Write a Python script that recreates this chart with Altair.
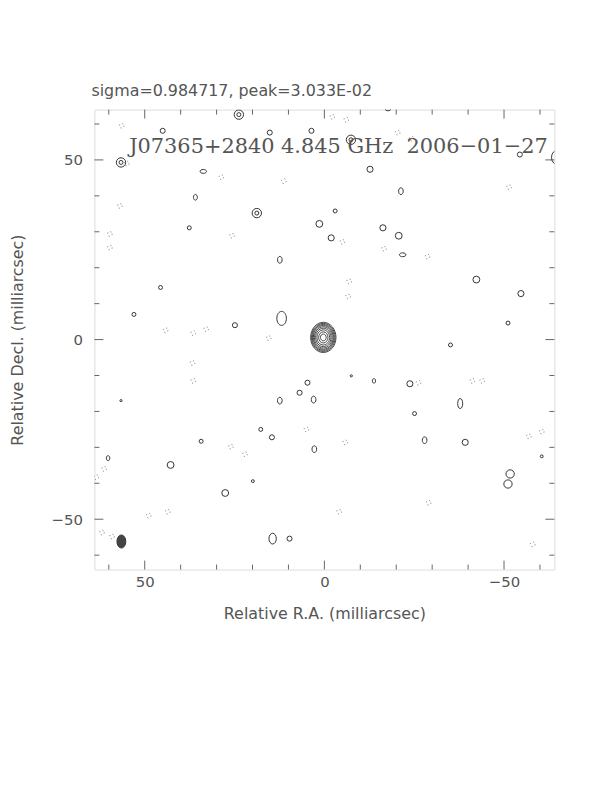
import altair as alt
import pandas as pd

# ---------------- data (milliarcsec) ----------------
title_top = "sigma=0.984717, peak=3.033E-02"
map_label = "J07365+2840 4.845 GHz \u00a02006\u221201\u221227"
x_title = "Relative R.A. (milliarcsec)"
y_title = "Relative Decl. (milliarcsec)"
axis_range = 64
label_vals = [50, 0, -50]
minor_ticks = [-60, -40, -30, -20, -10, 10, 20, 30, 40, 60]
major_ticks = [-50, 0, 50]

# central source: concentric contours (major axis, mas)
core_x = [0.3] * 9
core_y = [0.6] * 9
core_d = [8.4, 7.8, 7.2, 6.6, 5.9, 5.1, 4.2, 3.1, 1.9]
core_form = ["oval"] * 9

# positive contours elsewhere: centre, major diameter, form
pos_x = [56.6, 56.6, 23.8, 23.8, 18.8, 18.8, -7.4, -7.4, 45.0, 15.2, 3.6, -17.7, -54.4, -65.5,
         33.7, 35.9, -12.7, -21.3, 1.4, -3.0, -1.9, -16.3, -20.7, -21.8, 37.6, 12.4, -42.3,
         45.6, 53.0, 24.9, 11.9, -51.1, -54.7, -35.1, -13.8, -23.8, -25.1, -27.9, -37.8, -39.2,
         -51.7, -51.1, -60.5, 4.7, 6.9, 3.0, 12.4, 17.7, 14.6, 2.8, 34.3, 42.8, 27.6, 19.9,
         60.2, 14.4, 9.7, 56.6, -7.5]
pos_y = [49.3, 49.3, 62.6, 62.6, 35.2, 35.2, 55.6, 55.6, 58.1, 57.6, 58.1, 64.5, 51.5, 50.7,
         46.8, 39.6, 47.4, 41.3, 32.2, 35.8, 28.3, 31.1, 28.9, 23.6, 31.1, 22.2, 16.7,
         14.5, 7.0, 4.0, 5.9, 4.6, 12.8, -1.5, -11.5, -12.3, -20.6, -28.0, -17.8, -28.6,
         -37.4, -40.2, -32.5, -12.0, -14.8, -16.7, -17.0, -25.0, -27.2, -30.5, -28.3, -34.9, -42.7, -39.4,
         -33.0, -55.4, -55.4, -17.0, -10.1]
pos_d = [2.6, 1.1, 2.6, 1.1, 2.6, 1.1, 2.6, 1.1, 1.4, 1.4, 1.4, 1.7, 1.4, 4.6,
         1.8, 1.6, 1.7, 1.9, 1.9, 1.1, 1.7, 1.7, 1.9, 1.8, 1.1, 1.9, 1.9,
         1.1, 1.1, 1.4, 3.9, 1.1, 1.7, 1.1, 1.3, 1.7, 1.1, 1.9, 2.8, 1.7,
         2.3, 2.3, 0.8, 1.4, 1.4, 1.9, 1.9, 1.1, 1.4, 1.9, 1.1, 1.9, 1.9, 0.8,
         1.4, 3.0, 1.4, 0.6, 0.6]
pos_form = ["circle", "circle", "circle", "circle", "circle", "circle", "circle", "circle",
            "circle", "circle", "circle", "circle", "circle", "circle",
            "wide", "tall", "circle", "tall", "circle", "circle", "circle", "circle", "circle", "wide",
            "circle", "tall", "circle",
            "circle", "circle", "circle", "tall", "circle", "circle", "circle", "tall", "circle",
            "circle", "tall", "taller", "circle",
            "circle", "circle", "circle", "circle", "circle", "tall", "tall", "circle", "circle",
            "tall", "circle", "circle", "circle", "circle",
            "tall", "tall", "circle", "circle", "circle"]

# negative (dashed) contours
neg_x = [56.4, 59.7, 59.7, 55.0, 28.7, 25.7, 32.9, 36.5, 44.2, 36.7, 36.5, -6.9, -6.6, -5.0,
         -16.6, -28.7, 15.5, -26.2, -41.2, -43.9, -56.9, -60.5, 5.0, -5.8, 26.0, 22.1, -4.1,
         48.9, 43.6, 61.9, 59.1, -58.0, 63.5, 61.3, -51.4, -2.2, -6.1, -20.4, -24.3, 11.3,
         -29.0, 56.9]
neg_y = [59.5, 29.4, 25.6, 49.0, 45.2, 28.9, 2.9, 1.8, 2.6, -6.5, -11.5, 16.2, 12.0, 27.2,
         25.3, 23.1, 0.4, -12.0, -11.5, -11.5, -26.9, -25.6, -25.0, -28.6, -29.8, -31.9, -47.9,
         -49.0, -47.9, -53.7, -54.8, -57.0, -38.3, -36.0, 42.4, 62.0, 61.2, 57.6, 55.9, 44.1,
         -45.4, 37.2]
neg_d = [1.3] * len(neg_x)

# restoring beam
beam_x = [56.5]
beam_y = [-56.2]
beam_d = [3.6]
beam_form = ["tall"]

# ---------------- chart ----------------
ppm = 463 / (2 * axis_range)  # px per mas for size scale
shape_scale = alt.Scale(
    domain=["circle", "tall", "taller", "wide", "oval"],
    range=[
        "circle",
        "M -0.68 0 A 0.68 1 0 1 0 0.68 0 A 0.68 1 0 1 0 -0.68 0 Z",
        "M -0.5 0 A 0.5 1 0 1 0 0.5 0 A 0.5 1 0 1 0 -0.5 0 Z",
        "M -1 0 A 1 0.6 0 1 0 1 0 A 1 0.6 0 1 0 -1 0 Z",
        "M -0.84 0 A 0.84 1 0 1 0 0.84 0 A 0.84 1 0 1 0 -0.84 0 Z",
    ],
)
size_scale = alt.Scale(type="pow", exponent=2, domain=[0, 10], range=[0, (10 * ppm) ** 2])

xs = alt.Scale(domain=[axis_range, -axis_range], nice=False, zero=False)
ys = alt.Scale(domain=[-axis_range, axis_range], nice=False, zero=False)

TXT = "#555555"
xaxis = alt.Axis(values=label_vals, ticks=False, domain=False, grid=False, title=x_title,
                 labelFontSize=15, labelFont="DejaVu Sans", labelColor=TXT, labelPadding=5,
                 titleFontSize=16, titleFont="DejaVu Sans", titleFontWeight="normal",
                 titleColor=TXT, titlePadding=16)
yaxis = alt.Axis(values=label_vals, ticks=False, domain=False, grid=False, title=y_title,
                 labelFontSize=15, labelFont="DejaVu Sans", labelColor=TXT, labelPadding=12,
                 titleFontSize=16, titleFont="DejaVu Sans", titleFontWeight="normal",
                 titleColor=TXT, titlePadding=26)


def blobs(xv, yv, dv, fv, **mk):
    df = pd.DataFrame({"x": xv, "y": yv, "d": dv, "f": fv})
    return alt.Chart(df).mark_point(clip=True, **mk).encode(
        x=alt.X("x:Q", scale=xs, axis=xaxis),
        y=alt.Y("y:Q", scale=ys, axis=yaxis),
        size=alt.Size("d:Q", scale=size_scale, legend=None),
        shape=alt.Shape("f:N", scale=shape_scale, legend=None),
    )


core = blobs(core_x, core_y, core_d, core_form, filled=False, color="#333333", strokeWidth=0.9, opacity=1)
pos = blobs(pos_x, pos_y, pos_d, pos_form, filled=False, color="#333333", strokeWidth=1, opacity=1)
neg = blobs(neg_x, neg_y, neg_d, ["circle"] * len(neg_x), filled=False, color="#777777",
            strokeWidth=1, strokeDash=[1, 2.5], opacity=1)
beam = blobs(beam_x, beam_y, beam_d, beam_form, filled=True, color="#444444", opacity=1,
             stroke="#333333", strokeWidth=1)


def xticks(vals, length, top):
    df = pd.DataFrame({"v": vals})
    y1 = 0 if top else 463
    y2 = length if top else 463 - length
    return alt.Chart(df).mark_rule(color="#666666", strokeWidth=1).encode(
        x=alt.X("v:Q", scale=xs, axis=xaxis), y=alt.value(y1), y2=alt.value(y2))


def yticks(vals, length, left):
    df = pd.DataFrame({"v": vals})
    x1 = 0 if left else 463
    x2 = length if left else 463 - length
    return alt.Chart(df).mark_rule(color="#666666", strokeWidth=1).encode(
        y=alt.Y("v:Q", scale=ys, axis=yaxis), x=alt.value(x1), x2=alt.value(x2))


ticks = [xticks(minor_ticks, 5, True), xticks(minor_ticks, 5, False),
         xticks(major_ticks, 9, True), xticks(major_ticks, 9, False),
         yticks(minor_ticks, 5, True), yticks(minor_ticks, 5, False),
         yticks(major_ticks, 9, True), yticks(major_ticks, 9, False)]

label = alt.Chart(pd.DataFrame({"t": [map_label]})).mark_text(
    align="left", baseline="alphabetic", font="DejaVu Serif", fontSize=21, color=TXT
).encode(text="t:N", x=alt.value(35), y=alt.value(44))

chart = alt.layer(*ticks, neg, pos, core, beam, label).properties(
    width=463, height=463,
    title=alt.TitleParams(title_top, anchor="start", frame="group", fontSize=16, font="DejaVu Sans",
                          fontWeight="normal", color=TXT, offset=10, dx=-3),
    autosize=alt.AutoSizeParams(type="none"),
    padding={"left": 87, "top": 100, "right": 50, "bottom": 120},
).configure_view(stroke="#666666", strokeWidth=1).configure(background="white")

chart.save("out.html", embed_options={"renderer": "svg", "actions": False})
